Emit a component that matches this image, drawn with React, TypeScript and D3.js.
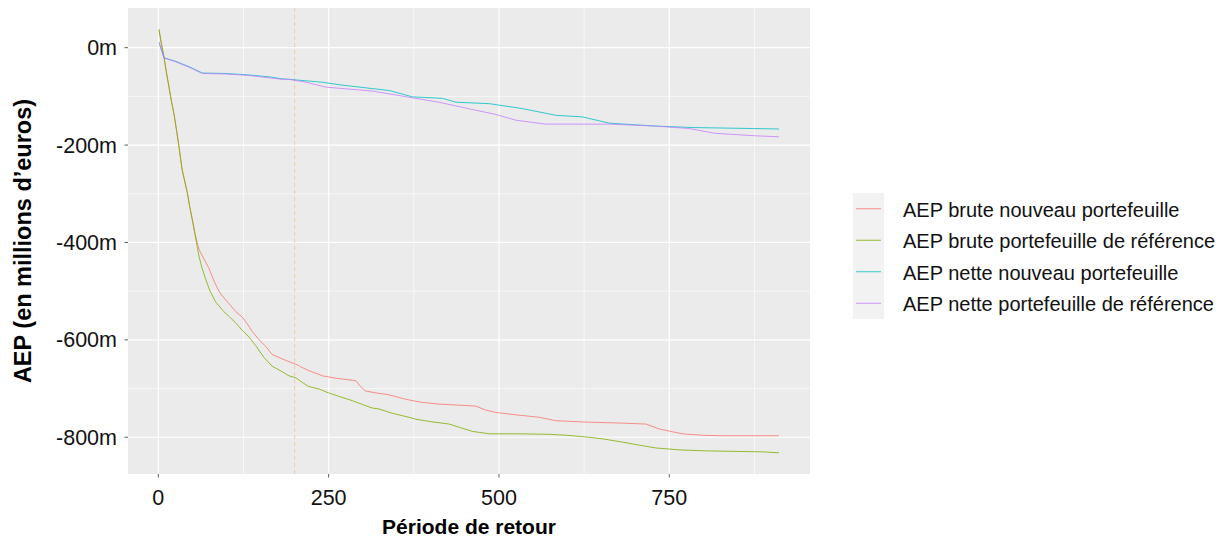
import React from "react";
import * as d3 from "d3";

type P = [number, number];

const seriesNames = [
  "AEP brute nouveau portefeuille",
  "AEP brute portefeuille de référence",
  "AEP nette nouveau portefeuille",
  "AEP nette portefeuille de référence",
];
const seriesColors = ["#F8766D", "#7CAE00", "#00BFC4", "#C77CFF"];

const bruteNouveau: P[] = [
  [1, 36], [4, 12], [8.4, -20], [12, -52], [15.7, -81], [19, -108], [23, -136], [27, -172],
  [30.4, -204], [35, -251], [42.6, -298], [46, -326], [50, -354], [54, -382], [57, -400],
  [60, -415], [67, -434], [74, -452], [82, -480], [89, -500], [94, -510], [104, -526],
  [113.6, -542], [123, -553], [130, -566], [138, -583], [148, -600], [158, -614], [167, -630],
  [180, -638], [192, -645], [202, -650], [207, -654], [222, -664], [236, -671], [241, -674],
  [262, -679], [285, -683], [290, -684], [297, -696], [304, -705], [320, -709], [339, -713],
  [363, -722], [385, -728], [412, -732], [440, -734], [466, -736], [480, -744], [495, -749],
  [525, -754], [559, -759], [583, -766], [630, -769], [681, -771], [716, -773], [735, -783],
  [769, -793], [800, -796], [828, -797], [911, -797],
];

const bruteReference: P[] = [
  [1, 38], [4, 12], [8.4, -20], [12, -52], [15.7, -81], [19, -108], [23, -136], [27, -172],
  [30.4, -204], [35, -251], [42.6, -298], [46, -326], [50, -354], [54, -385], [57, -408],
  [60, -430], [64, -452], [69.6, -476], [76, -500], [84, -522], [89, -530], [96, -542],
  [104, -552], [114, -566], [123, -580], [133, -594], [143, -612], [155, -636], [167, -654],
  [180, -664], [192, -674], [202, -678], [212, -688], [221, -696], [236, -701], [250, -709],
  [265, -716], [285, -725], [300, -733], [314, -740], [324, -742], [344, -751], [368, -759],
  [378, -763], [400, -768], [427, -773], [445, -781], [461, -788], [486, -793], [530, -793],
  [574, -794], [600, -796], [632, -800], [655, -804], [681, -810], [705, -816], [730, -822],
  [765, -826], [804, -828], [887, -830], [911, -832],
];

const netteNouveau: P[] = [
  [1, 11], [8.4, -21], [25.5, -28], [45, -39], [64.6, -52], [99, -53], [133, -56],
  [163, -60], [182, -64], [192, -65], [241, -71], [265, -76], [314, -84], [339, -88],
  [373, -101], [417, -104], [437, -112], [486, -115], [534, -125], [584, -139], [622, -142],
  [662, -155], [730, -161], [784, -164], [872, -166], [911, -167],
];

const netteReference: P[] = [
  [1, 11], [8.4, -21], [25.5, -29], [45, -40], [64.6, -53], [99, -54], [133, -57],
  [163, -62], [182, -65], [192, -65], [217, -71], [246, -81], [314, -89], [373, -103],
  [412, -112], [461, -127], [495, -137], [525, -149], [569, -157], [662, -157], [730, -161],
  [779, -166], [818, -176], [877, -181], [911, -183],
];

const allSeries: P[][] = [bruteNouveau, bruteReference, netteNouveau, netteReference];

const xMajorTicks = [0, 250, 500, 750];
const xMinorTicks = [125, 375, 625, 875];
const yMajorTicks = [0, -200, -400, -600, -800];
const yMinorTicks = [-100, -300, -500, -700];
const refLine = 200;

const W = 1227;
const H = 540;
const panel = { left: 128, right: 810, top: 8, bottom: 474 };
const FONT = "'Liberation Sans', Arial, Helvetica, sans-serif";

export default function App() {
  const allPts = allSeries.flat();
  const [xmin, xmax] = d3.extent(allPts, (d) => d[0]) as [number, number];
  const [ymin, ymax] = d3.extent(allPts, (d) => d[1]) as [number, number];
  const xe = (xmax - xmin) * 0.05;
  const ye = (ymax - ymin) * 0.05;
  const x = d3.scaleLinear().domain([xmin - xe, xmax + xe]).range([panel.left, panel.right]);
  const y = d3.scaleLinear().domain([ymin - ye, ymax + ye]).range([panel.bottom, panel.top]);
  const line = d3
    .line<P>()
    .x((d) => x(d[0]))
    .y((d) => y(d[1]));

  const legendTop = 193;
  const keyH = 31.5;

  return (
    <svg
      width={W}
      height={H}
      style={{ position: "absolute", left: 0, top: 0, background: "#fff" }}
      fontFamily={FONT}
    >
      <rect x={0} y={0} width={W} height={H} fill="#ffffff" />
      <rect
        x={panel.left}
        y={panel.top}
        width={panel.right - panel.left}
        height={panel.bottom - panel.top}
        fill="#EBEBEB"
      />
      {yMinorTicks.map((t) => (
        <line key={"ym" + t} x1={panel.left} x2={panel.right} y1={y(t)} y2={y(t)} stroke="#fff" strokeWidth={0.6} />
      ))}
      {xMinorTicks.map((t) => (
        <line key={"xm" + t} x1={x(t)} x2={x(t)} y1={panel.top} y2={panel.bottom} stroke="#fff" strokeWidth={0.6} />
      ))}
      {yMajorTicks.map((t) => (
        <line key={"yM" + t} x1={panel.left} x2={panel.right} y1={y(t)} y2={y(t)} stroke="#fff" strokeWidth={1.2} />
      ))}
      {xMajorTicks.map((t) => (
        <line key={"xM" + t} x1={x(t)} x2={x(t)} y1={panel.top} y2={panel.bottom} stroke="#fff" strokeWidth={1.2} />
      ))}
      <line
        x1={x(refLine)}
        x2={x(refLine)}
        y1={panel.top}
        y2={panel.bottom}
        stroke="#F2C79A"
        strokeWidth={0.9}
        strokeDasharray="4,3"
      />
      {allSeries.map((s, i) => (
        <path key={i} d={line(s) || ""} fill="none" stroke={seriesColors[i]} strokeWidth={0.8} />
      ))}
      {/* y axis */}
      {yMajorTicks.map((t) => (
        <g key={"yt" + t}>
          <line x1={panel.left - 3.5} x2={panel.left} y1={y(t)} y2={y(t)} stroke="#333" strokeWidth={0.8} />
          <text x={117} y={y(t)} dy={7.6} textAnchor="end" fontSize={21.5} fill="#111">
            {t === 0 ? "0m" : `${t}m`}
          </text>
        </g>
      ))}
      {/* x axis */}
      {xMajorTicks.map((t) => (
        <g key={"xt" + t}>
          <line x1={x(t)} x2={x(t)} y1={panel.bottom} y2={panel.bottom + 3.5} stroke="#333" strokeWidth={0.8} />
          <text x={x(t)} y={505} textAnchor="middle" fontSize={21.5} fill="#111">
            {t}
          </text>
        </g>
      ))}
      <text x={(panel.left + panel.right) / 2} y={534} textAnchor="middle" fontSize={21} fontWeight="bold" fill="#000">
        Période de retour
      </text>
      <text
        transform={`translate(31, ${(panel.top + panel.bottom) / 2}) rotate(-90)`}
        textAnchor="middle"
        fontSize={23.5}
        fontWeight="bold"
        fill="#000"
      >
        AEP (en millions d’euros)
      </text>
      {/* legend */}
      <rect x={853} y={legendTop} width={31} height={keyH * 4} fill="#F2F2F2" />
      {seriesNames.map((n, i) => {
        const cy = legendTop + keyH * i + keyH / 2;
        return (
          <g key={n}>
            <line x1={856} x2={881} y1={cy} y2={cy} stroke={seriesColors[i]} strokeWidth={0.8} />
            <text x={903} y={cy} dy={8} fontSize={20} fill="#111">
              {n}
            </text>
          </g>
        );
      })}
    </svg>
  );
}
